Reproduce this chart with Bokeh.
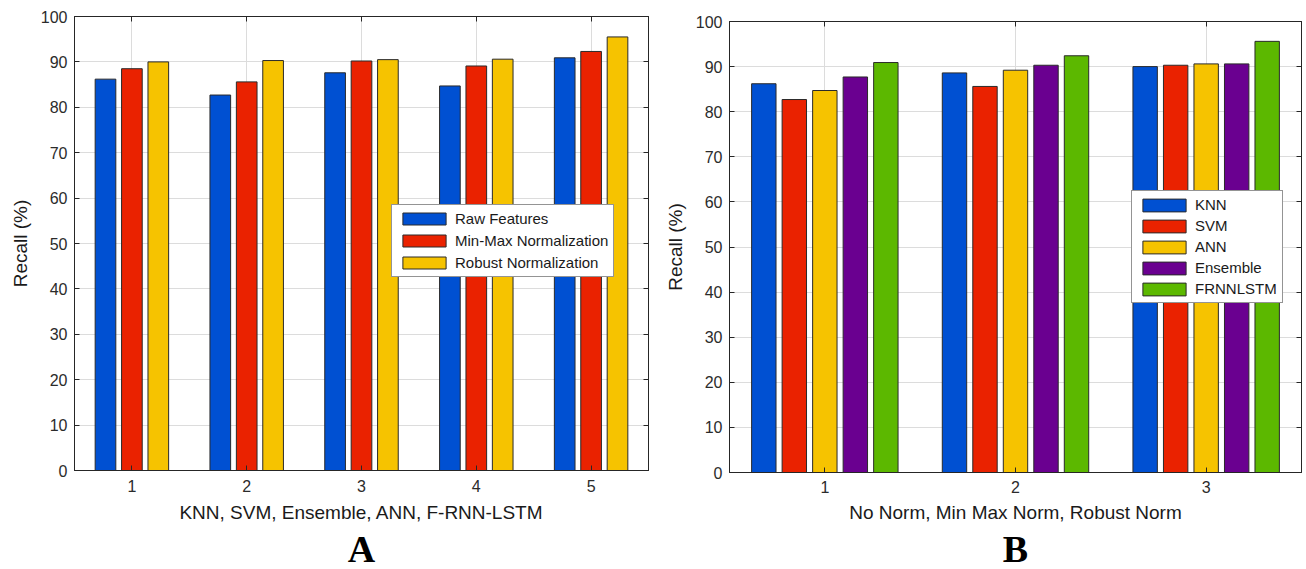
from bokeh.plotting import figure
from bokeh.models import (LinearAxis, Title, Legend, LegendItem, FixedTicker, Range1d,
                          CustomLabelingPolicy)
from bokeh.layouts import row, column
from bokeh.embed import file_html
from bokeh.resources import INLINE
import numpy as np

# ---- data panel A ----
groups_a = [1, 2, 3, 4, 5]
raw_features = [86.2, 82.7, 87.6, 84.7, 90.9]
minmax_norm = [88.5, 85.6, 90.2, 89.1, 92.3]
robust_norm = [90.0, 90.3, 90.5, 90.6, 95.5]
series_a_names = ["Raw Features", "Min-Max Normalization", "Robust Normalization"]

# ---- data panel B ----
groups_b = [1, 2, 3]
knn = [86.2, 88.6, 90.0]
svm = [82.7, 85.6, 90.3]
ann = [84.7, 89.2, 90.6]
ensemble = [87.7, 90.3, 90.6]
frnnlstm = [90.9, 92.4, 95.6]
series_b_names = ["KNN", "SVM", "ANN", "Ensemble", "FRNNLSTM"]

y_ticks = list(range(0, 101, 10))

COLORS = ["#0050d2", "#ea2200", "#f6c300", "#6a0090", "#5cb800"]
FONT = "Liberation Sans"
TXT = "#262626"

NO_LABELS = CustomLabelingPolicy(
    code="for (const i of Array.from(indices)) { indices.unset(i) } return indices")


def make_panel(width, groups, series, names, xlabel, letter, borders,
               step, bw, legend_xy, glyph_h, legend_spacing, x_standoffs):
    left, right, top, bottom = borders
    p = figure(width=width, height=569, output_backend="svg", toolbar_location=None,
               title=None,
               x_range=Range1d(0.5, len(groups) + 0.5), y_range=Range1d(0, 100),
               min_border_left=left, min_border_right=right,
               min_border_top=top, min_border_bottom=bottom,
               background_fill_color="white", border_fill_color="white",
               outline_line_color=TXT, outline_line_width=1)
    n = len(series)
    items = []
    for i, (vals, name) in enumerate(zip(series, names)):
        xs = np.array(groups, dtype=float) + (i - (n - 1) / 2) * step
        r = p.vbar(x=xs, top=vals, width=bw, bottom=0,
                   fill_color=COLORS[i], line_color="#2a2a2a", line_width=1)
        items.append(LegendItem(label=name, renderers=[r]))

    for ax in p.xaxis + p.yaxis:
        ax.major_tick_in = 5
        ax.major_tick_out = 0
        ax.minor_tick_in = 0
        ax.minor_tick_out = 0
        ax.axis_line_color = TXT
        ax.major_tick_line_color = TXT
        ax.major_label_text_font = FONT
        ax.major_label_text_font_size = "16px"
        ax.major_label_text_color = "#2b2b2b"
        ax.axis_label_text_font = FONT
        ax.axis_label_text_font_size = "19px"
        ax.axis_label_text_font_style = "normal"
        ax.axis_label_text_color = "#1a1a1a"
    p.xaxis.ticker = FixedTicker(ticks=groups)
    p.yaxis.ticker = FixedTicker(ticks=y_ticks)
    p.xaxis.axis_label = xlabel
    p.yaxis.axis_label = "Recall (%)"
    p.xaxis.major_label_standoff = x_standoffs[0]
    p.yaxis.major_label_standoff = 7
    p.xaxis.axis_label_standoff = x_standoffs[1]
    p.yaxis.axis_label_standoff = 7

    # box ticks on top/right (no labels)
    for loc, ticks in (("right", y_ticks), ("above", groups)):
        ax = LinearAxis(ticker=FixedTicker(ticks=ticks), major_tick_in=5, major_tick_out=0,
                        minor_tick_in=0, minor_tick_out=0, major_label_text_font_size="1px",
                        major_label_standoff=0, axis_line_color=TXT,
                        major_tick_line_color=TXT, major_label_policy=NO_LABELS)
        p.add_layout(ax, loc)

    p.xgrid.ticker = FixedTicker(ticks=groups)
    p.ygrid.ticker = FixedTicker(ticks=y_ticks)
    p.grid.grid_line_color = "#dcdcdc"
    p.grid.grid_line_width = 1

    lg = Legend(items=items, location=legend_xy, orientation="vertical",
                label_text_font=FONT, label_text_font_size="15px", label_text_color="#1a1a1a",
                glyph_width=54, glyph_height=glyph_h, label_standoff=4,
                spacing=legend_spacing, padding=5, margin=0,
                border_line_color="#2a2a2a", border_line_width=1,
                background_fill_color="white", background_fill_alpha=1.0)
    p.add_layout(lg, "center")

    t = Title(text=letter, align="center", text_font="Liberation Serif",
              text_font_style="bold", text_font_size="38px", text_color="black",
              standoff=0, offset=0)
    p.add_layout(t, "below")
    return p


pa = make_panel(660, groups_a, [raw_features, minmax_norm, robust_norm], series_a_names,
                "KNN, SVM, Ensemble, ANN, F-RNN-LSTM", "A", (74, 12, 16, 99),
                0.23, 0.18, (317, 193), 15, 5, (9, 7))
pb = make_panel(646, groups_b, [knn, svm, ann, ensemble, frnnlstm], series_b_names,
                "No Norm, Min Max Norm, Robust Norm", "B", (69, 4, 21, 96),
                0.16, 0.128, (402, 169), 16, 4, (8, 6))

layout = row(column(pa), column(pb))
open("out.html", "w").write(file_html(layout, INLINE))
